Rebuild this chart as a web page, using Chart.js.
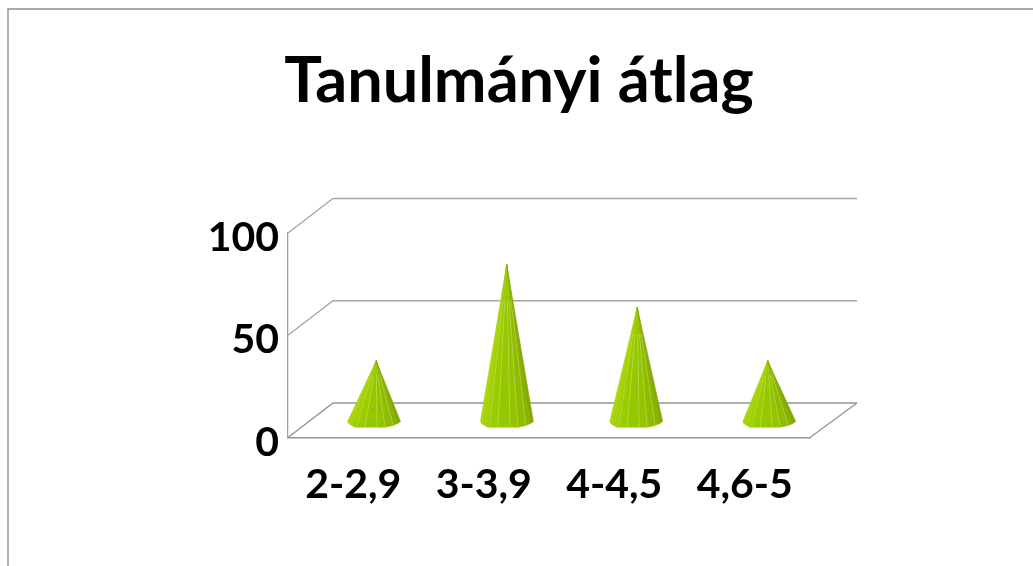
<!DOCTYPE html>
<html><head><meta charset="utf-8">
<script src="https://cdn.jsdelivr.net/npm/chart.js@4/dist/chart.umd.js"></script>
<style>html,body{margin:0;padding:0;background:#fff;overflow:hidden}canvas{display:block}</style>
</head><body>
<canvas id="c" width="1033" height="566"></canvas>
<script>
const titleText = "Tanulmányi átlag";
const categories = ["2-2,9", "3-3,9", "4-4,5", "4,6-5"];
const values = [29, 76, 55, 29];
const yMin = 0, yMax = 100, yStep = 50;

const depthX = 45, depthY = 34.5;
const coneMidX = 23, coneMidY = 17.5;
const baseShift = [-2.2, 0.2, -1, 1.5];
const baseProfile = [[-26.5,1.5],[-25,4],[-22,5.8],[-19,7.3],[-9,7.3],[3,7.3],[11,7.3],[19,5.4],[23,3.8],[26.5,1.6]];
const facetColors = ["#a9d608","#a6d404","#a2d000","#9bcc00","#96c800","#94c400","#90bc00","#8ab200","#84a900"];

const wallPlugin = {
  id: "wall",
  beforeDatasetsDraw(chart) {
    const { ctx, scales: { x, y }, chartArea: a } = chart;
    ctx.save();
    ctx.strokeStyle = "#8f8f8f"; ctx.lineWidth = 1.4;
    ctx.beginPath(); ctx.moveTo(8, 566); ctx.lineTo(8, 9); ctx.lineTo(1033, 9); ctx.stroke();
    y.ticks.forEach((t) => {
      const py = y.getPixelForValue(t.value);
      ctx.strokeStyle = t.value === yMin ? "#949494" : "#a6a6a6";
      ctx.lineWidth = 1.3;
      ctx.beginPath();
      ctx.moveTo(a.left, py);
      ctx.lineTo(a.left + depthX, py - depthY);
      ctx.lineTo(a.right + depthX + 2, py - depthY);
      ctx.stroke();
    });
    const py0 = y.getPixelForValue(yMin);
    ctx.strokeStyle = "#949494"; ctx.lineWidth = 1.3;
    ctx.beginPath(); ctx.moveTo(a.right, py0); ctx.lineTo(a.right + depthX + 2, py0 - depthY); ctx.stroke();
    ctx.restore();
  }
};

const conePlugin = {
  id: "cones",
  afterDatasetsDraw(chart) {
    const { ctx, scales: { y } } = chart;
    const baseY = y.getPixelForValue(yMin) - coneMidY;
    chart.getDatasetMeta(0).data.forEach((bar, i) => {
      const tipX = bar.x + coneMidX, tipY = bar.y - coneMidY;
      const cx = tipX + baseShift[i];
      ctx.save();
      for (let k = 0; k < baseProfile.length - 1; k++) {
        const p = baseProfile[k], q = baseProfile[k + 1];
        ctx.fillStyle = facetColors[k];
        ctx.strokeStyle = facetColors[k];
        ctx.lineWidth = 0.5;
        ctx.beginPath();
        ctx.moveTo(tipX, tipY);
        ctx.lineTo(cx + p[0], baseY + p[1]);
        ctx.lineTo(cx + q[0], baseY + q[1]);
        ctx.closePath();
        ctx.fill(); ctx.stroke();
      }
      ctx.strokeStyle = "rgba(205,232,120,0.6)";
      ctx.lineWidth = 0.7;
      [3, 4, 5, 6, 7].forEach((k) => {
        const p = baseProfile[k];
        const bx = cx + p[0] + (k === 3 ? 1.5 : 0), by = baseY + p[1];
        const s = 0.22;
        ctx.beginPath();
        ctx.moveTo(tipX + (bx - tipX) * s, tipY + (by - tipY) * s);
        ctx.lineTo(bx, by);
        ctx.stroke();
      });
      ctx.restore();
    });
  }
};

new Chart(document.getElementById("c"), {
  type: "bar",
  data: {
    labels: categories,
    datasets: [{ label: titleText, data: values, backgroundColor: "rgba(0,0,0,0)", borderWidth: 0 }]
  },
  plugins: [wallPlugin, conePlugin],
  options: {
    responsive: false, animation: false,
    layout: { padding: { left: 5, right: 0, top: 0, bottom: 0 } },
    plugins: {
      legend: { display: false },
      tooltip: { enabled: false },
      title: {
        display: true, text: titleText, color: "#000", align: "center",
        font: { family: "Lato", weight: "bold", size: 63 },
        padding: { top: 44, bottom: 113.4 }
      }
    },
    scales: {
      x: {
        grid: { display: false },
        border: { color: "#949494", width: 1.6 },
        ticks: { color: "#000", font: { family: "Lato", weight: "bold", size: 41 }, padding: 15, maxRotation: 0 },
        afterFit(s) { s.height = 128.5; }
      },
      y: {
        min: yMin, max: yMax,
        grid: { display: false },
        border: { color: "#a0a0a0", width: 1.3 },
        ticks: { stepSize: yStep, color: "#000", font: { family: "Lato", weight: "bold", size: 41 }, padding: 1, labelOffset: 5 },
        afterFit(s) { s.width = 283; }
      },
      spacer: {
        position: "right", grid: { display: false }, border: { display: false },
        ticks: { display: false },
        afterFit(s) { s.width = 223; }
      }
    }
  }
});
</script>
</body></html>
